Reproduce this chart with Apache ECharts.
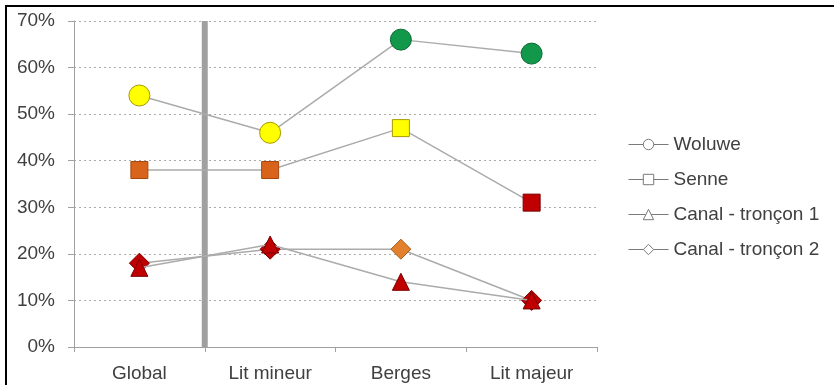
<!DOCTYPE html>
<html>
<head>
<meta charset="utf-8">
<script src="https://cdn.jsdelivr.net/npm/echarts@6/dist/echarts.min.js"></script>
<style>
html,body{margin:0;padding:0;background:#fff;}
#chart{width:834px;height:385px;}
</style>
</head>
<body>
<div id="chart"></div>
<script>
// ---- data ----
var categories = ['Global', 'Lit mineur', 'Berges', 'Lit majeur'];
var seriesNames = ['Woluwe', 'Senne', 'Canal - tronçon 1', 'Canal - tronçon 2'];
var woluwe = [54, 46, 66, 63];
var senne = [38, 38, 47, 31];
var canal1 = [17, 22, 14, 10];
var canal2 = [18, 21, 21, 10];
// quality class of each point (colour of marker)
var woluweClass = ['yellow', 'yellow', 'green', 'green'];
var senneClass = ['orange', 'orange', 'yellow', 'red'];
var canal1Class = ['red', 'red', 'red', 'red'];
var canal2Class = ['red', 'red', 'orange2', 'red'];
var yTicks = [0, 10, 20, 30, 40, 50, 60, 70];

// ---- styles ----
var palette = {
  yellow: { fill: '#ffff00', border: '#a89a00' },
  green: { fill: '#12984a', border: '#0b6a32' },
  orange: { fill: '#d8641c', border: '#a8460c' },
  orange2: { fill: '#e2802e', border: '#a85a14' },
  red: { fill: '#c00000', border: '#7a0000' }
};
var symbols = ['circle', 'rect', 'triangle', 'diamond'];
var sizes = [21, 17, 17, 20];

function pts(vals, cls) {
  return vals.map(function (v, i) {
    var p = palette[cls[i]];
    return { value: v, itemStyle: { color: p.fill, borderColor: p.border, borderWidth: 1 } };
  });
}

var allVals = [woluwe, senne, canal1, canal2];
var allCls = [woluweClass, senneClass, canal1Class, canal2Class];
var font = '"Liberation Sans", Arial, sans-serif';

var series = seriesNames.map(function (n, k) {
  return {
    name: n,
    type: 'line',
    data: pts(allVals[k], allCls[k]),
    symbol: symbols[k],
    symbolSize: sizes[k],
    lineStyle: { color: '#ababab', width: 1.5 },
    itemStyle: { color: '#fff', borderColor: '#808080', borderWidth: 1 },
    emphasis: { disabled: true },
    animation: false,
    z: 10 - k
  };
});

var chart = echarts.init(document.getElementById('chart'), null, { renderer: 'canvas' });
chart.setOption({
  animation: false,
  backgroundColor: '#fff',
  grid: { left: 74, right: 237, top: 21, bottom: 38, containLabel: false },
  xAxis: {
    type: 'category',
    data: categories,
    boundaryGap: true,
    axisLine: { lineStyle: { color: '#a0a0a0', width: 1 } },
    axisTick: { show: true, length: 5, lineStyle: { color: '#a0a0a0' } },
    axisLabel: { color: '#404040', fontSize: 19, fontFamily: font, margin: 17 },
    splitLine: { show: false }
  },
  yAxis: {
    type: 'value',
    min: yTicks[0],
    max: yTicks[yTicks.length - 1],
    interval: 10,
    axisLine: { show: true, lineStyle: { color: '#a0a0a0', width: 1 } },
    axisTick: { show: true, length: 6, lineStyle: { color: '#a0a0a0' } },
    axisLabel: { color: '#404040', fontSize: 19, fontFamily: font, margin: 19, formatter: '{value}%' },
    splitLine: { show: true, lineStyle: { color: '#acacac', type: [2, 3], width: 1 } }
  },
  legend: {
    orient: 'vertical',
    left: 628,
    top: 135,
    padding: 0,
    itemWidth: 40,
    itemHeight: 13,
    itemGap: 16,
    selectedMode: false,
    textStyle: { color: '#404040', fontSize: 19, fontFamily: font, lineHeight: 19 },
    itemStyle: { color: '#fff', borderColor: '#7a7a7a', borderWidth: 1 },
    lineStyle: { color: '#7a7a7a', width: 1 },
    data: seriesNames
  },
  series: series
});

// separator bar between first and second category, positioned through the axis scale
var x0 = chart.convertToPixel({ xAxisIndex: 0 }, categories[0]);
var x1 = chart.convertToPixel({ xAxisIndex: 0 }, categories[1]);
var yTop = chart.convertToPixel({ yAxisIndex: 0 }, yTicks[yTicks.length - 1]);
var yBot = chart.convertToPixel({ yAxisIndex: 0 }, yTicks[0]);
chart.setOption({
  graphic: [
    {
      type: 'rect', z: 5, silent: true,
      shape: { x: (x0 + x1) / 2 - 3, y: yTop, width: 6, height: yBot - yTop },
      style: { fill: '#a0a0a0' }
    },
    {
      type: 'rect', z: 100, silent: true,
      shape: { x: 6, y: 6, width: 1000, height: 1000 },
      style: { fill: 'none', stroke: '#000', lineWidth: 2 }
    }
  ]
});
</script>
</body>
</html>
